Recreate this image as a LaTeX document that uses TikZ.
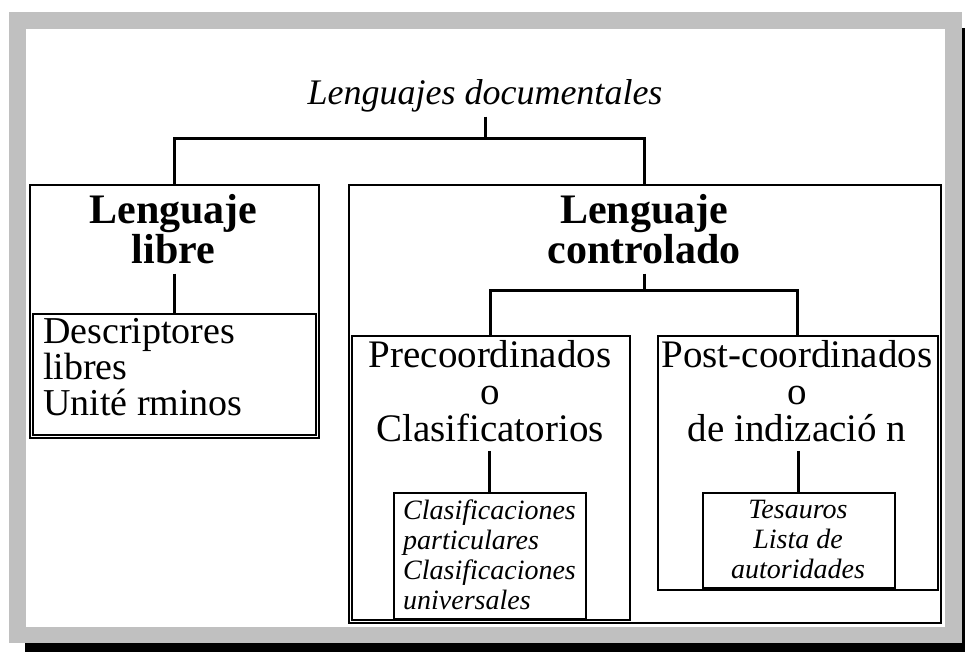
\documentclass[tikz,border=0pt]{standalone}
\usepackage{fontspec}
\setmainfont{Liberation Serif}
\definecolor{framegray}{RGB}{192,192,192}

\begin{document}
\begin{tikzpicture}[x=1pt,y=-1pt,
    box/.style={draw, line width=1.6pt, inner sep=0pt, anchor=north west},
    conn/.style={line width=3pt},
    headtxt/.style={font=\fontsize{42}{38}\selectfont\bfseries, align=center, inner xsep=0pt, inner ysep=10pt},
    bodytxt/.style={font=\fontsize{39}{37}\selectfont, inner xsep=0pt, inner ysep=9pt},
    smalltxt/.style={font=\fontsize{28}{30}\selectfont\itshape, inner sep=0pt}]
    \useasboundingbox (0,0) rectangle (965,651);

    % frame with shadow
    \fill[black] (25,28) rectangle (978,659);
    \fill[framegray] (9,12) rectangle (962,643);
    \fill[white] (26,29) rectangle (945,627);

    % boxes
    \node[box, minimum width=289pt, minimum height=253pt] (boxLibre) at (29,184) {};
    \node[box, minimum width=283pt, minimum height=121pt] (boxDesc) at (32,313) {};
    \node[box, minimum width=592pt, minimum height=438pt] (boxCtrl) at (348,184) {};
    \node[box, minimum width=278pt, minimum height=284pt] (boxPre) at (351,335) {};
    \node[box, minimum width=280pt, minimum height=254pt] (boxPost) at (657,335) {};
    \node[box, minimum width=192pt, minimum height=126pt] (boxClas) at (393,492) {};
    \node[box, minimum width=192pt, minimum height=95pt] (boxTes) at (702,492) {};

    % texts
    \node[font=\fontsize{36}{36}\selectfont\itshape, inner sep=4pt] (title) at (485,96) {Lenguajes documentales};
    \node[headtxt] (txtLibre) at (173.5,229) {Lenguaje\\libre};
    \node[headtxt] (txtCtrl) at (644,229) {Lenguaje\\controlado};
    \node[bodytxt, font=\fontsize{38}{36}\selectfont, align=left, anchor=north west, inner ysep=0pt] (txtDesc) at (43,318)
        {Descriptores\\libres\\Unit\'e rminos};
    \node[bodytxt, align=center] (txtPre) at (490,391) {Precoordinados\\o\\Clasificatorios};
    \node[bodytxt, align=center] (txtPost) at (797,391) {Post-coordinados\\o\\de indizaci\'o n};
    \node[smalltxt, align=left, anchor=north west] (txtClas) at (403,500)
        {Clasificaciones\\particulares\\Clasificaciones\\universales};
    \node[smalltxt, align=center, anchor=north] (txtTes) at (798,500) {Tesauros\\Lista de\\autoridades};

    % connectors
    \coordinate (topfork) at (485,138);
    \coordinate (ctrlfork) at (644,290);
    \draw[conn] (title.south) -- (topfork);
    \draw[conn] (boxLibre.north) |- (topfork) -| (boxCtrl.north);
    \draw[conn] (boxDesc.north |- txtLibre.south) -- (boxDesc.north);
    \draw[conn] (ctrlfork |- txtCtrl.south) -- (ctrlfork);
    \draw[conn] (boxPre.north) |- (ctrlfork) -| (boxPost.north);
    \draw[conn] (boxClas.north |- txtPre.south) -- (boxClas.north);
    \draw[conn] (boxTes.north |- txtPost.south) -- (boxTes.north);
\end{tikzpicture}
\end{document}
